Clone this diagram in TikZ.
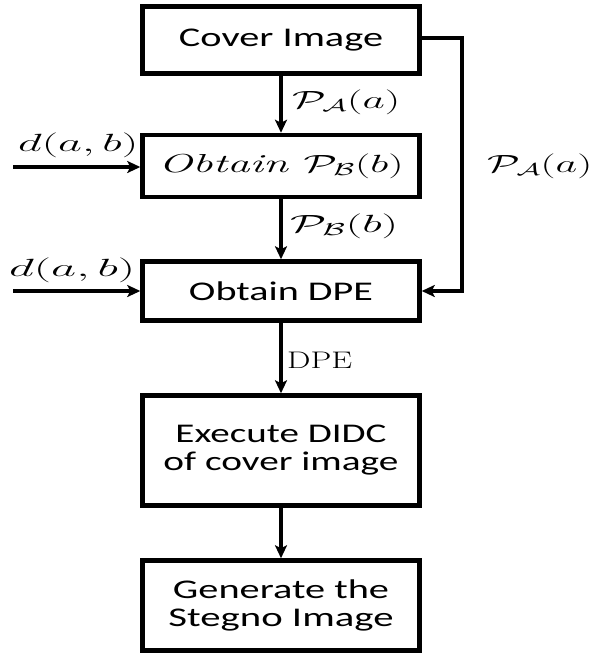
\documentclass[tikz,border=0pt]{standalone}
\usepackage{fontspec}
\usepackage{graphicx}
\newfontfamily\boxfont{Carlito}
\usetikzlibrary{arrows.meta}
% set a piece of text to a given width, keeping its natural height
\newcommand{\wide}[2]{\resizebox{#1}{\height}{#2}}
\begin{document}
\begin{tikzpicture}[x=1pt,y=-1pt,
  blk/.style={draw, line width=4.5pt, minimum width=277pt, inner sep=0pt,
    font=\boxfont\fontsize{27}{28}\selectfont, align=center},
  flow/.style={line width=3.8pt, -{Stealth[length=13pt,width=12pt,inset=3pt]}},
  lbl/.style={font=\fontsize{25}{27}\selectfont, inner sep=0pt, anchor=west}]
\useasboundingbox (0,0) rectangle (600,657);

% process boxes
\node[blk, minimum height=67pt] (cover) at (281,40) {\wide{204pt}{Cover Image}};
\node[blk, minimum height=62pt] (pb) at (281,166)
  {\wide{245pt}{\fontsize{26}{28}\selectfont\rmfamily\itshape Obtain $\mathcal{P}_{\mathcal{B}}(b)$}};
\node[blk, minimum height=59pt] (dpe) at (281,291) {\wide{184pt}{Obtain DPE}};
\node[blk, minimum height=110pt] (didc) at (281,450.5)
  {\wide{211pt}{Execute DIDC}\\\wide{235pt}{of cover image}};
\node[blk, minimum height=90pt] (gen) at (281,605.5)
  {\wide{216pt}{Generate the}\\\wide{225pt}{Stegno Image}};

% main flow
\draw[flow] (cover) -- (pb);
\draw[flow] (pb) -- (dpe);
\draw[flow] (dpe) -- (didc);
\draw[flow] (didc) -- (gen);

% side inputs
\coordinate (in1) at (13,167);
\coordinate (in2) at (13,291);
\draw[flow] (in1) -- (pb.west |- in1);
\draw[flow] (in2) -- (dpe.west);

% feedback from the cover image
\draw[flow] ([yshift=2pt]cover.east) -- ++(40,0) |- (dpe.east);

% labels
\node[lbl] (la) at (292,102) {\wide{108pt}{$\mathcal{P}_{\mathcal{A}}(a)$}};
\node[lbl] (lb) at (290,226) {\wide{108pt}{$\mathcal{P}_{\mathcal{B}}(b)$}};
\node[lbl] (ld) at (287,360) {\wide{65pt}{\fontsize{24}{26}\selectfont DPE}};
\node[lbl] (lr) at (487,166) {\wide{105pt}{$\mathcal{P}_{\mathcal{A}}(a)$}};
\node[lbl] (d1) at (18,145) {\wide{120pt}{$d(a,b)$}};
\node[lbl] (d2) at (9,270) {\wide{126pt}{$d(a,b)$}};
\end{tikzpicture}
\end{document}
